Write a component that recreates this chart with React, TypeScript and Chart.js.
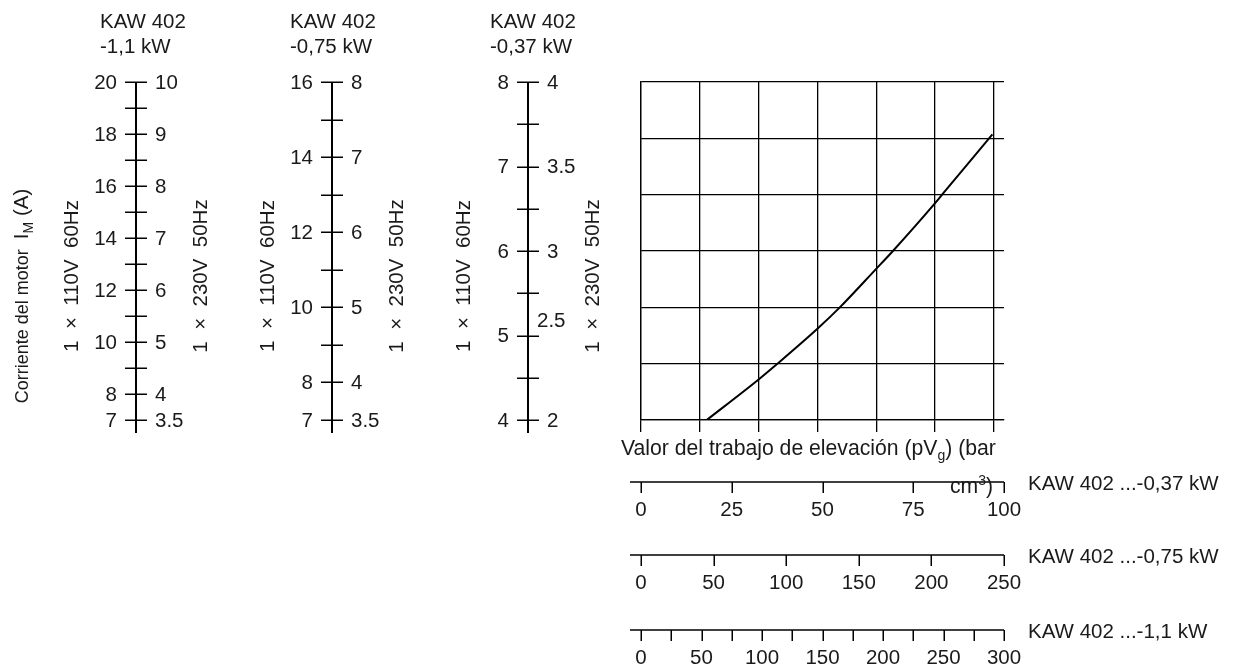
import React, { useEffect, useRef } from 'react';
import { Chart, registerables } from 'chart.js';

Chart.register(...registerables);

// ---------------- Data ----------------
// Curve (KAW 402 -0,37 kW): lifting work pVg (bar cm³) vs motor current I_M (A, 1×110V 60Hz)
const CURVE_PVG_037 = [18.1, 32.4, 37.4, 48.6, 54.7, 64.6, 69.4, 80.9, 83.4, 96.8];
const CURVE_CURRENT_037 = [4.0, 4.48, 4.66, 5.08, 5.33, 5.78, 6.0, 6.56, 6.69, 7.38];

// Grid of the diagram
const GRID_STEP_PVG = 16.2;
const GRID_ROWS = 6;

// Left current axes (A)
const RANGE_11_110V = [7, 20];
const RANGE_11_230V = [3.5, 10];
const RANGE_075_110V = [7, 16];
const RANGE_075_230V = [3.5, 8];
const RANGE_037_110V = [4, 8];
const RANGE_037_230V = [2, 4];

const AX11_TICKS = [7, 8, 9, 10, 11, 12, 13, 14, 15, 16, 17, 18, 19, 20];
const AX11_110V_LABELS = [20, 18, 16, 14, 12, 10, 8, 7];
const AX11_230V_LABELS = [10, 9, 8, 7, 6, 5, 4, 3.5];
const AX075_TICKS = [7, 8, 9, 10, 11, 12, 13, 14, 15, 16];
const AX075_110V_LABELS = [16, 14, 12, 10, 8, 7];
const AX075_230V_LABELS = [8, 7, 6, 5, 4, 3.5];
const AX037_TICKS = [4, 4.5, 5, 5.5, 6, 6.5, 7, 7.5, 8];
const AX037_110V_LABELS = [8, 7, 6, 5, 4];
const AX037_230V_LABELS = [4, 3.5, 3, 2.5, 2];

// Bottom pVg axes (bar cm³)
const RANGE_PVG_037 = [0, 100];
const RANGE_PVG_075 = [0, 250];
const RANGE_PVG_11 = [0, 300];
const PVG_037_TICKS = [0, 25, 50, 75, 100];
const PVG_037_LABELS = [0, 25, 50, 75, 100];
const PVG_075_TICKS = [0, 50, 100, 150, 200, 250];
const PVG_075_LABELS = [0, 50, 100, 150, 200, 250];
const PVG_11_TICKS = [0, 25, 50, 75, 100, 125, 150, 175, 200, 225, 250, 275, 300];
const PVG_11_LABELS = [0, 50, 100, 150, 200, 250, 300];

const MODEL = 'KAW 402';
const LABEL_110V = '1  ×  110V  60Hz';
const LABEL_230V = '1  ×  230V  50Hz';

// ---------------- Layout / style ----------------
const FAMILY = '"Liberation Sans", Arial, Helvetica, sans-serif';
const FONT = `20.5px ${FAMILY}`;
const TITLE_FONT = `21.2px ${FAMILY}`;
const SMALL_FONT = `14px ${FAMILY}`;
const TEXT = '#1a1a1a';

type Part = { t: string; sub?: boolean; sup?: boolean; font?: string };

function partFont(p: Part) {
  return p.font ? p.font : p.sub || p.sup ? SMALL_FONT : FONT;
}

function richWidth(ctx: CanvasRenderingContext2D, parts: Part[]) {
  let w = 0;
  for (const p of parts) {
    ctx.font = partFont(p);
    w += ctx.measureText(p.t).width;
  }
  return w;
}

function drawRich(
  ctx: CanvasRenderingContext2D,
  parts: Part[],
  x: number,
  yMid: number,
  align: 'left' | 'center' | 'right'
) {
  const w = richWidth(ctx, parts);
  let cx = align === 'left' ? x : align === 'center' ? x - w / 2 : x - w;
  ctx.textAlign = 'left';
  ctx.textBaseline = 'alphabetic';
  const base = yMid + 7;
  for (const p of parts) {
    ctx.font = partFont(p);
    const dy = p.sub ? 5 : p.sup ? -8 : 0;
    ctx.fillText(p.t, cx, base + dy);
    cx += ctx.measureText(p.t).width;
  }
}

function drawRotated(ctx: CanvasRenderingContext2D, parts: Part[], cx: number, cy: number) {
  ctx.save();
  ctx.translate(cx, cy);
  ctx.rotate(-Math.PI / 2);
  drawRich(ctx, parts, 0, 0, 'center');
  ctx.restore();
}

const fmt = (v: number) => String(v);

const LEFT_AXES = [
  {
    x: 136, titleX: 100, power: '-1,1 kW',
    tickScale: 'y11a', ticks: AX11_TICKS,
    leftScale: 'y11a', leftLabels: AX11_110V_LABELS,
    rightScale: 'y11b', rightLabels: AX11_230V_LABELS,
    nudge: {} as Record<string, [number, number]>,
  },
  {
    x: 332, titleX: 290, power: '-0,75 kW',
    tickScale: 'y075a', ticks: AX075_TICKS,
    leftScale: 'y075a', leftLabels: AX075_110V_LABELS,
    rightScale: 'y075b', rightLabels: AX075_230V_LABELS,
    nudge: {} as Record<string, [number, number]>,
  },
  {
    x: 528, titleX: 490, power: '-0,37 kW',
    tickScale: 'y037', ticks: AX037_TICKS,
    leftScale: 'y037', leftLabels: AX037_110V_LABELS,
    rightScale: 'y037b', rightLabels: AX037_230V_LABELS,
    nudge: { '2.5': [-10, -15] } as Record<string, [number, number]>,
  },
];

const BOTTOM_AXES = [
  { scale: 'x', y: 482, ticks: PVG_037_TICKS, labels: PVG_037_LABELS, name: 'KAW 402 ...-0,37 kW' },
  { scale: 'x075', y: 555, ticks: PVG_075_TICKS, labels: PVG_075_LABELS, name: 'KAW 402 ...-0,75 kW' },
  { scale: 'x11', y: 630, ticks: PVG_11_TICKS, labels: PVG_11_LABELS, name: 'KAW 402 ...-1,1 kW' },
];

const nomogramPlugin = {
  id: 'nomogram',
  afterDraw(chart: any) {
    const ctx: CanvasRenderingContext2D = chart.ctx;
    const sc = chart.scales;
    ctx.save();
    ctx.strokeStyle = '#000';
    ctx.fillStyle = TEXT;

    // ----- left current axes -----
    for (const ax of LEFT_AXES) {
      const ts = sc[ax.tickScale];
      const top = ts.getPixelForValue(ts.max);
      const bottom = ts.getPixelForValue(ts.min);
      ctx.lineWidth = 2;
      ctx.beginPath();
      ctx.moveTo(ax.x, top);
      ctx.lineTo(ax.x, bottom + 13);
      ctx.stroke();
      ctx.lineWidth = 1.5;
      for (const v of ax.ticks) {
        const y = Math.round(ts.getPixelForValue(v)) + 0.25;
        ctx.beginPath();
        ctx.moveTo(ax.x - 11, y);
        ctx.lineTo(ax.x + 11, y);
        ctx.stroke();
      }
      ctx.font = FONT;
      ctx.textBaseline = 'middle';
      ctx.textAlign = 'right';
      const ls = sc[ax.leftScale];
      for (const v of ax.leftLabels) {
        ctx.fillText(fmt(v), ax.x - 19, ls.getPixelForValue(v) + 1);
      }
      ctx.textAlign = 'left';
      const rs = sc[ax.rightScale];
      for (const v of ax.rightLabels) {
        const n = ax.nudge[fmt(v)] || [0, 0];
        ctx.fillText(fmt(v), ax.x + 19 + n[0], rs.getPixelForValue(v) + 1 + n[1]);
      }
      // titles
      ctx.textAlign = 'left';
      ctx.fillText(MODEL, ax.titleX, 22);
      ctx.fillText(ax.power, ax.titleX, 47);
      // rotated supply labels
      const midY = (top + bottom) / 2 + 25;
      drawRotated(ctx, [{ t: LABEL_110V }], ax.x - 65, midY);
      drawRotated(ctx, [{ t: LABEL_230V }], ax.x + 64, midY);
    }

    // main y title
    const yTitleFont = `18px ${FAMILY}`;
    drawRotated(
      ctx,
      [
        { t: 'Corriente del motor  ', font: yTitleFont },
        { t: 'I' },
        { t: 'M', sub: true },
        { t: ' (A)' },
      ],
      21,
      296
    );

    // ----- bottom pVg axes -----
    for (const ax of BOTTOM_AXES) {
      const s = sc[ax.scale];
      const x0 = s.getPixelForValue(s.min);
      const x1 = s.getPixelForValue(s.max);
      ctx.lineWidth = 1.5;
      ctx.beginPath();
      ctx.moveTo(x0 - 11, ax.y);
      ctx.lineTo(x1, ax.y);
      ctx.stroke();
      for (const v of ax.ticks) {
        const x = Math.round(s.getPixelForValue(v)) + 0.25;
        ctx.beginPath();
        ctx.moveTo(x, ax.y);
        ctx.lineTo(x, ax.y + 11);
        ctx.stroke();
      }
      ctx.font = FONT;
      ctx.textBaseline = 'middle';
      ctx.textAlign = 'center';
      for (const v of ax.labels) {
        ctx.fillText(fmt(v), s.getPixelForValue(v), ax.y + 28);
      }
      ctx.textAlign = 'left';
      ctx.fillText(ax.name, 1028, ax.y + 2);
    }

    // x title (wrapped)
    drawRich(
      ctx,
      [
        { t: 'Valor del trabajo de elevación (pV', font: TITLE_FONT },
        { t: 'g', sub: true },
        { t: ') (bar', font: TITLE_FONT },
      ],
      621,
      448,
      'left'
    );
    drawRich(
      ctx,
      [{ t: 'cm', font: TITLE_FONT }, { t: '3', sup: true }, { t: ')', font: TITLE_FONT }],
      993,
      486,
      'right'
    );

    ctx.restore();
  },
};

export default function App() {
  const ref = useRef<HTMLCanvasElement | null>(null);

  useEffect(() => {
    if (!ref.current) return;
    const points = CURVE_PVG_037.map((x, i) => ({ x, y: CURVE_CURRENT_037[i] }));
    const hidden = (r: number[], position: string) => ({
      type: 'linear' as const,
      display: false,
      position,
      min: r[0],
      max: r[1],
    });
    const chart = new Chart(ref.current, {
      type: 'line',
      data: {
        datasets: [
          {
            data: points,
            xAxisID: 'x',
            yAxisID: 'y037',
            borderColor: '#000',
            borderWidth: 2,
            pointRadius: 0,
            fill: false,
            cubicInterpolationMode: 'monotone',
          },
        ],
      },
      options: {
        animation: false,
        responsive: true,
        maintainAspectRatio: false,
        layout: { padding: { left: 641, right: 230, top: 82, bottom: 239 } },
        plugins: { legend: { display: false }, tooltip: { enabled: false } },
        events: [],
        scales: {
          x: {
            type: 'linear',
            position: 'bottom',
            min: RANGE_PVG_037[0],
            max: RANGE_PVG_037[1],
            ticks: { display: false, stepSize: GRID_STEP_PVG, includeBounds: false },
            grid: { color: '#000', lineWidth: 1.3, drawTicks: true, tickLength: 12, tickColor: '#000', tickWidth: 1.3 },
            border: { display: true, color: '#000', width: 1.3 },
          },
          y: {
            type: 'linear',
            position: 'left',
            min: 0,
            max: GRID_ROWS,
            ticks: { display: false, stepSize: 1 },
            grid: { color: '#000', lineWidth: 1.3, drawTicks: false },
            border: { display: true, color: '#000', width: 1.3 },
          },
          x075: hidden(RANGE_PVG_075, 'bottom'),
          x11: hidden(RANGE_PVG_11, 'bottom'),
          y11a: hidden(RANGE_11_110V, 'left'),
          y11b: hidden(RANGE_11_230V, 'left'),
          y075a: hidden(RANGE_075_110V, 'left'),
          y075b: hidden(RANGE_075_230V, 'left'),
          y037: hidden(RANGE_037_110V, 'left'),
          y037b: hidden(RANGE_037_230V, 'left'),
        } as any,
      },
      plugins: [nomogramPlugin],
    });
    return () => chart.destroy();
  }, []);

  return (
    <div style={{ position: 'fixed', left: 0, top: 0, width: 1234, height: 671, background: '#fff' }}>
      <canvas ref={ref} />
    </div>
  );
}
